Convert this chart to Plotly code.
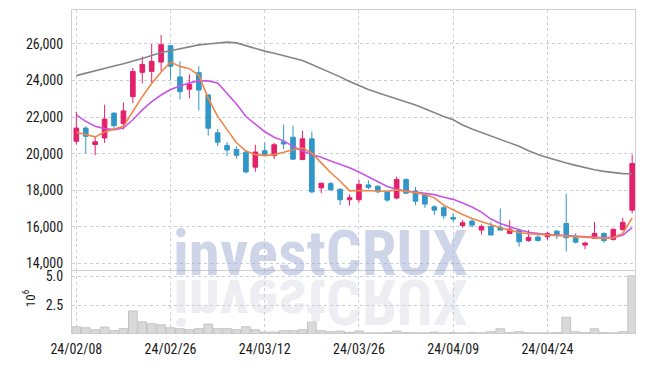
import plotly.graph_objects as go

dates = ["24/02/08","24/02/13","24/02/14","24/02/15","24/02/16","24/02/19","24/02/20","24/02/21","24/02/22","24/02/23",
         "24/02/26","24/02/27","24/02/28","24/02/29","24/03/04","24/03/05","24/03/06","24/03/07","24/03/08","24/03/11",
         "24/03/12","24/03/13","24/03/14","24/03/15","24/03/18","24/03/19","24/03/20","24/03/21","24/03/22","24/03/25",
         "24/03/26","24/03/27","24/03/28","24/03/29","24/04/01","24/04/02","24/04/03","24/04/04","24/04/05","24/04/08",
         "24/04/09","24/04/11","24/04/12","24/04/15","24/04/16","24/04/17","24/04/18","24/04/19","24/04/22","24/04/23",
         "24/04/24","24/04/25","24/04/26","24/04/29","24/04/30","24/05/02","24/05/03","24/05/07","24/05/08","24/05/09"]

open_ = [20680,21400,20500,20860,22220,21640,23120,24450,24500,25010,
         25910,24200,23530,24430,23210,21140,20450,20230,20080,19260,
         20160,19890,20650,20900,19680,20810,18130,18360,18050,17480,
         17480,18290,18220,17910,17570,18590,17960,17760,17090,17040,
         16510,16070,16310,15820,16020,15980,15640,15800,15250,15440,
         15450,15760,16180,15420,15000,15360,15640,15310,15840,16910]
high = [22300,21500,20950,22680,22250,22790,24690,25320,26000,26490,
        25950,25050,24340,24780,23250,21350,20630,20400,20200,20490,
        20610,20580,21600,21530,21260,21210,18400,18450,18100,17780,
        18560,18540,18260,17950,18740,18650,18180,17800,17180,17150,
        16730,16360,16450,16130,16270,17000,16350,15900,15820,15640,
        15730,15820,17820,15640,15180,16270,15690,15910,16490,19950]
low = [20500,20020,19910,20590,21350,21320,22760,23840,23840,24520,
       24050,22970,23030,22360,20990,20410,19870,19730,18920,19010,
       19900,19710,20250,19650,19640,17840,17840,17990,17190,17150,
       17330,18050,17840,17370,17510,17780,17180,17040,16640,16420,
       16270,15950,15950,15580,15550,15820,15590,14910,15180,15180,
       15270,15330,14640,15090,14780,15330,15130,15240,15800,16730]
close = [21400,20950,20650,21890,21530,22340,24500,24880,25050,25960,
         24780,23390,23800,23480,21390,20630,20200,19910,19000,20090,
         19950,20490,20530,19700,20810,17910,18380,18020,17480,17590,
         18320,18160,17910,17460,18590,17840,17400,17240,16910,16600,
         16420,16220,16090,16020,15550,15820,15870,15180,15420,15250,
         15640,15510,15400,15160,15110,15640,15240,15860,16240,19460]

ma5 = [21170,21045,20919,21189,21351,21495,22306,23117,23838,24468,
       25009,24775,24649,24288,23027,22036,21315,20594,20144,19946,
       19892,19946,20072,20216,20306,20036,19495,18955,18504,17964,
       17982,17982,17964,17946,18018,17964,17870,17764,17582,17182,
       16909,16673,16455,16273,16091,15945,15818,15691,15618,15582,
       15582,15545,15491,15455,15420,15400,15364,15400,15636,16491]
ma20 = [22126,21765,21495,21369,21315,21405,21855,22396,22846,23207,
        23513,23712,23874,23982,23982,23870,23280,22720,22030,21600,
        21200,20900,20700,20400,20150,19950,19800,19600,19420,19230,
        19000,18730,18480,18200,18050,17950,17900,17840,17760,17620,
        17500,17300,17080,16800,16420,16180,16000,15840,15700,15620,
        15570,15550,15520,15480,15430,15400,15400,15420,15540,15950]
ma60 = [24270,24410,24550,24690,24800,24920,25050,25210,25370,25530,
        25630,25750,25860,25950,26000,26050,26100,26060,25900,25760,
        25610,25490,25370,25260,25100,24880,24660,24450,24200,23950,
        23720,23510,23330,23160,23000,22860,22660,22460,22240,22030,
        21850,21570,21350,21160,20980,20800,20620,20400,20160,19950,
        19790,19620,19490,19360,19220,19120,19030,18950,18910,18900]

volume_m = [0.63,0.54,0.37,0.60,0.29,0.46,2.00,1.06,0.89,0.80,
            0.54,0.46,0.37,0.46,0.86,0.46,0.46,0.37,0.63,0.37,
            0.17,0.17,0.29,0.29,0.37,1.03,0.29,0.20,0.26,0.14,
            0.26,0.10,0.10,0.12,0.26,0.12,0.10,0.10,0.17,0.10,
            0.12,0.10,0.12,0.10,0.20,0.45,0.12,0.20,0.10,0.10,
            0.10,0.12,1.46,0.20,0.12,0.45,0.12,0.10,0.20,5.05]

xtick_labels = ["24/02/08","24/02/26","24/03/12","24/03/26","24/04/09","24/04/24"]
price_ticks = [14000,16000,18000,20000,22000,24000,26000]
price_tick_text = ["14,000","16,000","18,000","20,000","22,000","24,000","26,000"]
vol_ticks = [2.5, 5.0]

UP = "#e4206b"
DOWN = "#3196c8"
GRID = "#c9cde0"
FONT = "Roboto Condensed, Roboto, Liberation Sans, Arial"

fig = go.Figure()
fig.add_trace(go.Bar(x=dates, y=volume_m, marker=dict(color="#d9d9d9", line=dict(color="#c4c4c4", width=1)),
                     xaxis="x2", yaxis="y2", showlegend=False))
fig.add_trace(go.Scatter(x=dates, y=ma60, mode="lines", line=dict(color="#858585", width=1.6), showlegend=False))
fig.add_trace(go.Scatter(x=dates, y=ma20, mode="lines", line=dict(color="#c955e6", width=1.6), showlegend=False))
fig.add_trace(go.Scatter(x=dates, y=ma5, mode="lines", line=dict(color="#ef8748", width=1.6), showlegend=False))
fig.add_trace(go.Candlestick(x=dates, open=open_, high=high, low=low, close=close,
                             increasing=dict(line=dict(color=UP, width=1), fillcolor=UP),
                             decreasing=dict(line=dict(color=DOWN, width=1), fillcolor=DOWN),
                             whiskerwidth=0, showlegend=False))

xr = [-0.46, 59.3]
common_x = dict(type="category", range=xr, showgrid=True, gridcolor=GRID, griddash="dot", gridwidth=1,
                tickvals=xtick_labels, ticktext=xtick_labels, zeroline=False, rangeslider=dict(visible=False))
fig.update_layout(
    width=645, height=366,
    margin=dict(l=72, r=9, t=9, b=29),
    paper_bgcolor="white", plot_bgcolor="white",
    font=dict(family=FONT, size=14, color="#1a1a1a"),
    xaxis=dict(**common_x, domain=[0, 1], anchor="y", matches="x2", showticklabels=False,
               showline=True, linecolor="#cfcfcf", mirror=True),
    yaxis=dict(domain=[0.198, 1], range=[13644, 27859], tickvals=price_ticks, ticktext=price_tick_text,
               showgrid=True, gridcolor=GRID, griddash="dot", zeroline=False,
               showline=True, linecolor="#cfcfcf", mirror=True,
               ticks="outside", ticklen=5, tickcolor="rgba(0,0,0,0)"),
    xaxis2=dict(**common_x, domain=[0, 1], anchor="y2", showticklabels=True, showline=False,
                ticks="outside", ticklen=2, tickcolor="rgba(0,0,0,0)"),
    yaxis2=dict(domain=[0, 0.198], range=[0, 5.57], tickvals=vol_ticks, tickformat=".1f",
                showgrid=True, gridcolor=GRID, griddash="dot", zeroline=False,
                showline=True, linecolor="#cfcfcf", mirror=True,
                ticks="outside", ticklen=5, tickcolor="rgba(0,0,0,0)"),
    bargap=0.08,
    annotations=[
        dict(text="<b>investCRUX</b>", xref="paper", yref="paper", x=0.441, y=0.248, xanchor="center", yanchor="middle",
             showarrow=False, font=dict(size=63, color="rgba(160,172,210,0.5)", family=FONT)),
        dict(text="<b>investCRUX</b>", xref="paper", yref="paper", x=0.441, y=0.1, xanchor="center", yanchor="middle",
             showarrow=False, font=dict(size=63, color="rgba(200,200,215,0.33)", family=FONT)),
        dict(text="10<sup>6</sup>", xref="paper", yref="paper", x=-0.075, y=0.11, xanchor="center", yanchor="middle",
             textangle=-90, showarrow=False, font=dict(size=13, color="#1a1a1a", family=FONT)),
    ],
)

post = """
document.body.style.margin = '0';
var gd = document.getElementById('{plot_id}');
function flipWM(){
  var g = gd.querySelector('g.annotation[data-index="1"] text.annotation-text');
  if(g){ g.style.transformBox='fill-box'; g.style.transformOrigin='center'; g.style.transform='scaleY(-1)'; }
}
flipWM();
gd.on('plotly_afterplot', flipWM);
"""
fig.write_html("out.html", post_script=post, config={"displayModeBar": False})
